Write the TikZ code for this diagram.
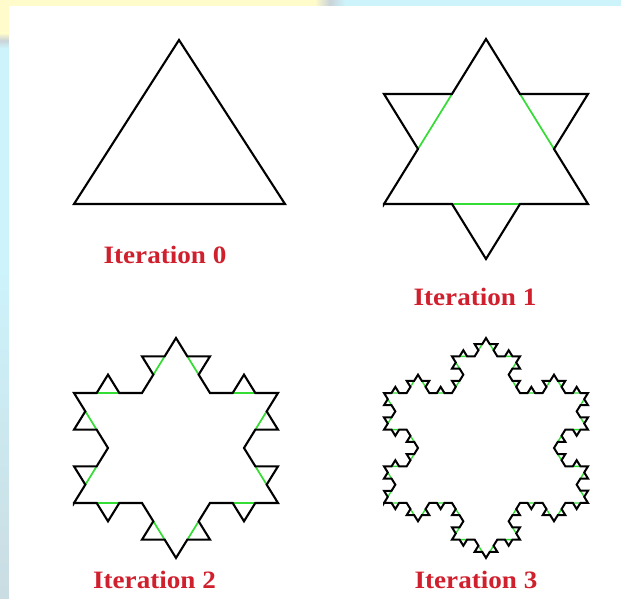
\documentclass[tikz,border=0pt]{standalone}
\usepackage{fontspec}
\newfontfamily\labelfont{Liberation Serif}
\usetikzlibrary{lindenmayersystems}
\pgfdeclarelindenmayersystem{Koch}{\rule{F -> F+F--F+F}}
\pgfdeclarelindenmayersystem{KochG}{%
  \symbol{G}{\pgflsystemmoveforward\pgflsystemdrawforward\pgflsystemmoveforward}%
  \rule{G -> G+G--G+G}}
\definecolor{bgcyan}{HTML}{CDF3FB}
\definecolor{bgyellow}{HTML}{FFFBCB}
\definecolor{bggray}{HTML}{C9D3D8}
\definecolor{kgreen}{HTML}{33DD33}
\definecolor{labred}{HTML}{D0202E}
\tikzset{
  outline/.style={draw=black, line width=2.1pt, line join=miter},
  greenline/.style={draw=kgreen, line width=1.7pt},
  label/.style={text=labred, font=\labelfont\bfseries\fontsize{25}{29}\selectfont, xscale=1.085, inner sep=0pt},
}
\begin{document}
\begin{tikzpicture}[x=1pt,y=1pt]
\useasboundingbox (0,0) rectangle (621,598);
% background frame
\fill[bgcyan] (0,0) rectangle (621,598);
\fill[bgyellow] (0,592) rectangle (315,598);
\shade[left color=bgyellow, right color=bgcyan, middle color=bggray] (315,592) rectangle (345,598);
\fill[bgyellow] (0,565) rectangle (9,598);
\shade[top color=bgyellow, bottom color=bgcyan, middle color=bggray] (0,550) rectangle (9,565);
\shade[top color=bgcyan, bottom color=bggray!70!bgcyan] (0,0) rectangle (9,330);
\fill[white] (9,0) rectangle (621,592);

% Iteration 0
\coordinate (t0a) at (74,394);
\coordinate (t0b) at (285,394);
\coordinate (t0c) at (179,558);
\draw[outline] (t0a) -- (t0c) -- (t0b) -- cycle;

% Iteration 1
\begin{scope}[shift={(384,394)}, yscale=0.934]
  \draw[greenline, lindenmayer system={KochG, axiom=+G--G--G, order=0, step=68pt, angle=60}] (0,0) lindenmayer system;
  \draw[outline, lindenmayer system={Koch, axiom=+F--F--F, order=1, step=68pt, angle=60}] (0,0) lindenmayer system -- cycle;
\end{scope}

% Iteration 2
\begin{scope}[shift={(74,95)}, yscale=0.934]
  \draw[greenline, lindenmayer system={KochG, axiom=+G--G--G, order=1, step=22.6667pt, angle=60}] (0,0) lindenmayer system;
  \draw[outline, lindenmayer system={Koch, axiom=+F--F--F, order=2, step=22.6667pt, angle=60}] (0,0) lindenmayer system -- cycle;
\end{scope}

% Iteration 3
\begin{scope}[shift={(384,95)}, yscale=0.934]
  \draw[greenline, line width=1.4pt, lindenmayer system={KochG, axiom=+G--G--G, order=2, step=7.5556pt, angle=60}] (0,0) lindenmayer system;
  \draw[outline, line width=2pt, lindenmayer system={Koch, axiom=+F--F--F, order=3, step=7.5556pt, angle=60}] (0,0) lindenmayer system -- cycle;
\end{scope}

% Labels
\node[label] (lab0) at (165,343) {Iteration 0};
\node[label] (lab1) at (475,301) {Iteration 1};
\node[label] (lab2) at (154.5,18) {Iteration 2};
\node[label] (lab3) at (476,18) {Iteration 3};
\end{tikzpicture}
\end{document}
